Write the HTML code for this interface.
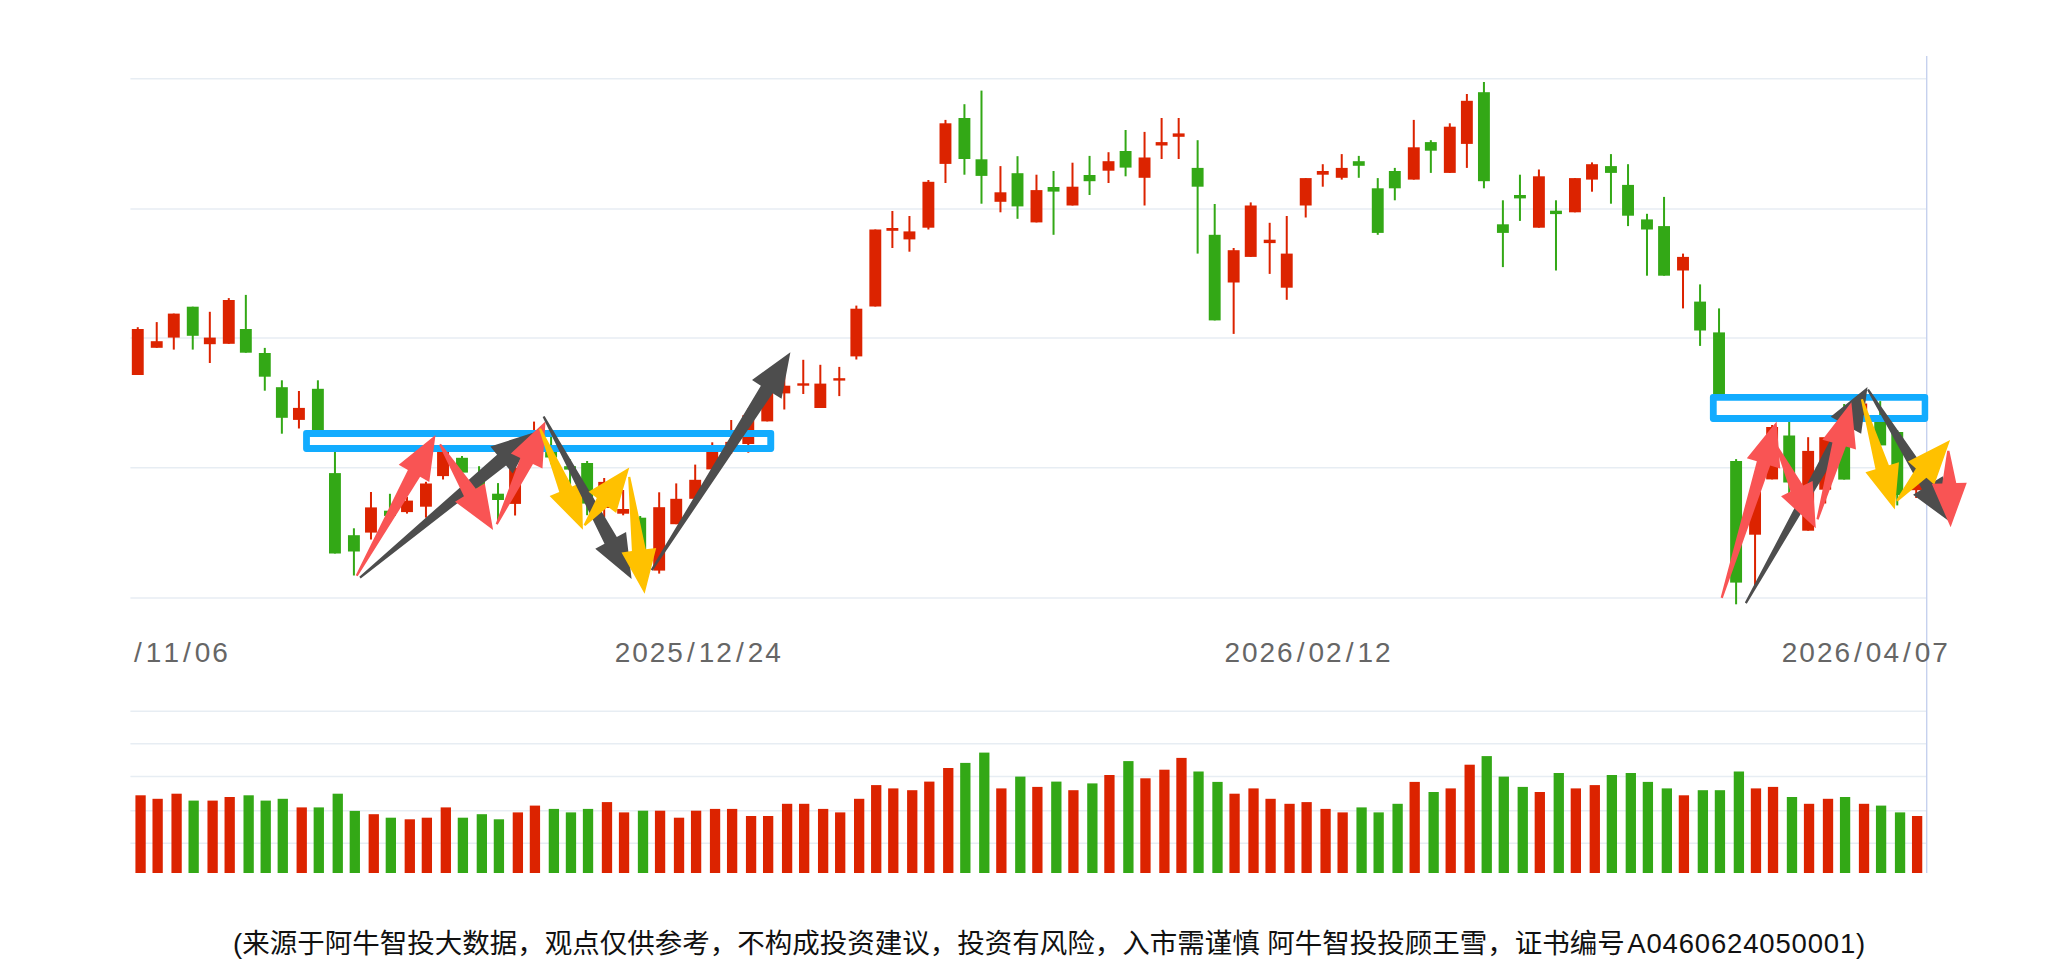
<!DOCTYPE html>
<html lang="zh-CN"><head><meta charset="utf-8"><title>K线图</title>
<style>
html,body{margin:0;padding:0;background:#fff}
body{width:2058px;height:974px;position:relative;overflow:hidden}
.foot{position:absolute;left:233px;top:924px;height:40px;line-height:40px;white-space:nowrap;
font-family:"Liberation Sans","Noto Sans CJK SC",sans-serif;font-size:27.5px;color:#111;letter-spacing:0px}
</style></head><body>
<svg width="2058" height="974" viewBox="0 0 2058 974" style="position:absolute;left:0;top:0">
<g stroke="#E7EDF3" stroke-width="1.5">
<line x1="130.4" x2="1926" y1="78.7" y2="78.7"/>
<line x1="130.4" x2="1926" y1="209.1" y2="209.1"/>
<line x1="130.4" x2="1926" y1="338" y2="338"/>
<line x1="130.4" x2="1926" y1="467.8" y2="467.8"/>
<line x1="130.4" x2="1926" y1="598" y2="598"/>
<line x1="130.4" x2="1926" y1="711.2" y2="711.2"/>
<line x1="130.4" x2="1926" y1="743.8" y2="743.8"/>
<line x1="130.4" x2="1926" y1="776.5" y2="776.5"/>
<line x1="130.4" x2="1926" y1="810.8" y2="810.8"/>
<line x1="130.4" x2="1926" y1="843.3" y2="843.3"/>
</g>
<line x1="1926.7" x2="1926.7" y1="56" y2="873" stroke="#C6D1EE" stroke-width="1.4"/>
<g fill="#DC2300">
<rect x="135.42" y="795.3" width="10.3" height="77.7"/>
<rect x="152.48" y="798.8" width="10.3" height="74.2"/>
<rect x="171.44" y="793.7" width="10.3" height="79.3"/>
<rect x="207.46" y="800.6" width="10.3" height="72.4"/>
<rect x="224.53" y="797" width="10.3" height="76"/>
<rect x="296.58" y="807.4" width="10.3" height="65.6"/>
<rect x="368.62" y="814.2" width="10.3" height="58.8"/>
<rect x="404.65" y="819.3" width="10.3" height="53.7"/>
<rect x="421.71" y="817.7" width="10.3" height="55.3"/>
<rect x="440.67" y="807.4" width="10.3" height="65.6"/>
<rect x="512.72" y="812.4" width="10.3" height="60.6"/>
<rect x="529.78" y="805.6" width="10.3" height="67.4"/>
<rect x="601.83" y="802.1" width="10.3" height="70.9"/>
<rect x="618.9" y="812.4" width="10.3" height="60.6"/>
<rect x="654.92" y="810.7" width="10.3" height="62.3"/>
<rect x="673.88" y="817.7" width="10.3" height="55.3"/>
<rect x="690.94" y="810.7" width="10.3" height="62.3"/>
<rect x="709.9" y="808.9" width="10.3" height="64.1"/>
<rect x="726.97" y="808.9" width="10.3" height="64.1"/>
<rect x="745.93" y="816" width="10.3" height="57"/>
<rect x="762.99" y="816" width="10.3" height="57"/>
<rect x="781.95" y="803.8" width="10.3" height="69.2"/>
<rect x="799.02" y="803.8" width="10.3" height="69.2"/>
<rect x="817.98" y="808.9" width="10.3" height="64.1"/>
<rect x="835.04" y="812.4" width="10.3" height="60.6"/>
<rect x="854" y="798.8" width="10.3" height="74.2"/>
<rect x="871.06" y="785.1" width="10.3" height="87.9"/>
<rect x="888.13" y="788.4" width="10.3" height="84.6"/>
<rect x="907.09" y="790.2" width="10.3" height="82.8"/>
<rect x="924.15" y="781.6" width="10.3" height="91.4"/>
<rect x="943.11" y="768" width="10.3" height="105"/>
<rect x="996.2" y="788.4" width="10.3" height="84.6"/>
<rect x="1032.22" y="786.9" width="10.3" height="86.1"/>
<rect x="1068.25" y="790.2" width="10.3" height="82.8"/>
<rect x="1104.27" y="775" width="10.3" height="98"/>
<rect x="1140.3" y="778.3" width="10.3" height="94.7"/>
<rect x="1159.26" y="769.7" width="10.3" height="103.3"/>
<rect x="1176.32" y="757.9" width="10.3" height="115.1"/>
<rect x="1229.41" y="793.7" width="10.3" height="79.3"/>
<rect x="1248.37" y="788.4" width="10.3" height="84.6"/>
<rect x="1265.43" y="798.8" width="10.3" height="74.2"/>
<rect x="1284.39" y="803.8" width="10.3" height="69.2"/>
<rect x="1301.46" y="802.1" width="10.3" height="70.9"/>
<rect x="1320.42" y="808.9" width="10.3" height="64.1"/>
<rect x="1337.48" y="812.4" width="10.3" height="60.6"/>
<rect x="1409.53" y="781.9" width="10.3" height="91.1"/>
<rect x="1445.55" y="788.4" width="10.3" height="84.6"/>
<rect x="1464.51" y="764.7" width="10.3" height="108.3"/>
<rect x="1534.66" y="792" width="10.3" height="81"/>
<rect x="1570.69" y="788.4" width="10.3" height="84.6"/>
<rect x="1589.65" y="785.1" width="10.3" height="87.9"/>
<rect x="1678.76" y="795.3" width="10.3" height="77.7"/>
<rect x="1750.81" y="788.4" width="10.3" height="84.6"/>
<rect x="1767.87" y="786.9" width="10.3" height="86.1"/>
<rect x="1803.9" y="803.8" width="10.3" height="69.2"/>
<rect x="1822.86" y="798.8" width="10.3" height="74.2"/>
<rect x="1858.88" y="803.8" width="10.3" height="69.2"/>
<rect x="1911.97" y="816" width="10.3" height="57"/>
</g>
<g fill="#33A816">
<rect x="188.5" y="800.6" width="10.3" height="72.4"/>
<rect x="243.49" y="795.3" width="10.3" height="77.7"/>
<rect x="260.55" y="800.6" width="10.3" height="72.4"/>
<rect x="277.62" y="798.8" width="10.3" height="74.2"/>
<rect x="313.64" y="807.4" width="10.3" height="65.6"/>
<rect x="332.6" y="793.7" width="10.3" height="79.3"/>
<rect x="349.66" y="810.9" width="10.3" height="62.1"/>
<rect x="385.69" y="817.7" width="10.3" height="55.3"/>
<rect x="457.74" y="817.7" width="10.3" height="55.3"/>
<rect x="476.7" y="814.2" width="10.3" height="58.8"/>
<rect x="493.76" y="819.3" width="10.3" height="53.7"/>
<rect x="548.74" y="808.9" width="10.3" height="64.1"/>
<rect x="565.81" y="812.4" width="10.3" height="60.6"/>
<rect x="582.87" y="808.9" width="10.3" height="64.1"/>
<rect x="637.86" y="810.7" width="10.3" height="62.3"/>
<rect x="960.18" y="762.9" width="10.3" height="110.1"/>
<rect x="979.14" y="752.6" width="10.3" height="120.4"/>
<rect x="1015.16" y="776.6" width="10.3" height="96.4"/>
<rect x="1051.18" y="781.6" width="10.3" height="91.4"/>
<rect x="1087.21" y="783.4" width="10.3" height="89.6"/>
<rect x="1123.23" y="761.1" width="10.3" height="111.9"/>
<rect x="1193.38" y="771.5" width="10.3" height="101.5"/>
<rect x="1212.34" y="781.9" width="10.3" height="91.1"/>
<rect x="1356.44" y="807.4" width="10.3" height="65.6"/>
<rect x="1373.5" y="812.4" width="10.3" height="60.6"/>
<rect x="1392.46" y="803.8" width="10.3" height="69.2"/>
<rect x="1428.49" y="792" width="10.3" height="81"/>
<rect x="1481.58" y="756.1" width="10.3" height="116.9"/>
<rect x="1498.64" y="776.6" width="10.3" height="96.4"/>
<rect x="1517.6" y="786.9" width="10.3" height="86.1"/>
<rect x="1553.62" y="773" width="10.3" height="100"/>
<rect x="1606.71" y="775" width="10.3" height="98"/>
<rect x="1625.67" y="773" width="10.3" height="100"/>
<rect x="1642.74" y="781.9" width="10.3" height="91.1"/>
<rect x="1661.7" y="788.4" width="10.3" height="84.6"/>
<rect x="1697.72" y="790.2" width="10.3" height="82.8"/>
<rect x="1714.78" y="790.2" width="10.3" height="82.8"/>
<rect x="1733.74" y="771.5" width="10.3" height="101.5"/>
<rect x="1786.83" y="797" width="10.3" height="76"/>
<rect x="1839.92" y="797" width="10.3" height="76"/>
<rect x="1875.94" y="805.6" width="10.3" height="67.4"/>
<rect x="1894.9" y="812.4" width="10.3" height="60.6"/>
</g>
<g fill="#DC2300">
<rect x="136.77" y="327.2" width="2" height="47.8"/>
<rect x="131.82" y="329" width="11.9" height="46"/>
<rect x="155.73" y="322.1" width="2" height="25.7"/>
<rect x="150.78" y="341.2" width="11.9" height="6.6"/>
<rect x="172.79" y="313.6" width="2" height="36"/>
<rect x="167.84" y="313.6" width="11.9" height="24"/>
<rect x="208.82" y="311.8" width="2" height="51.2"/>
<rect x="203.87" y="337.6" width="11.9" height="6.6"/>
<rect x="227.78" y="298.1" width="2" height="45.7"/>
<rect x="222.83" y="300" width="11.9" height="43.8"/>
<rect x="297.93" y="391" width="2" height="37.5"/>
<rect x="292.98" y="407.9" width="11.9" height="12"/>
<rect x="369.98" y="492" width="2" height="47.5"/>
<rect x="365.03" y="507.4" width="11.9" height="25.2"/>
<rect x="406" y="497" width="2" height="16.6"/>
<rect x="401.05" y="500.6" width="11.9" height="11.5"/>
<rect x="424.96" y="481.8" width="2" height="35.9"/>
<rect x="420.01" y="483.5" width="11.9" height="23.2"/>
<rect x="442.03" y="451" width="2" height="28.5"/>
<rect x="437.08" y="451" width="11.9" height="25.1"/>
<rect x="514.07" y="465" width="2" height="50.5"/>
<rect x="509.12" y="467.8" width="11.9" height="36.1"/>
<rect x="533.03" y="421.6" width="2" height="40.4"/>
<rect x="528.08" y="432" width="11.9" height="30"/>
<rect x="603.19" y="478" width="2" height="39.5"/>
<rect x="598.24" y="481.9" width="11.9" height="26.1"/>
<rect x="622.15" y="490" width="2" height="25.3"/>
<rect x="617.2" y="509" width="11.9" height="4.7"/>
<rect x="658.17" y="492.3" width="2" height="81.3"/>
<rect x="653.22" y="507.2" width="11.9" height="63.4"/>
<rect x="675.23" y="483.4" width="2" height="40.8"/>
<rect x="670.28" y="498.8" width="11.9" height="25.4"/>
<rect x="694.19" y="464.6" width="2" height="34.2"/>
<rect x="689.24" y="479.8" width="11.9" height="19"/>
<rect x="711.26" y="442.3" width="2" height="27.1"/>
<rect x="706.31" y="450.6" width="11.9" height="18.8"/>
<rect x="730.22" y="420" width="2" height="33.7"/>
<rect x="725.27" y="441.9" width="11.9" height="8.1"/>
<rect x="747.28" y="408.5" width="2" height="44.2"/>
<rect x="742.33" y="415.2" width="11.9" height="28.8"/>
<rect x="766.24" y="385" width="2" height="36.4"/>
<rect x="761.29" y="389.6" width="11.9" height="31.8"/>
<rect x="783.31" y="375" width="2" height="34.5"/>
<rect x="778.36" y="385.7" width="11.9" height="7.7"/>
<rect x="802.27" y="359.8" width="2" height="34.2"/>
<rect x="797.32" y="383.3" width="11.9" height="2.4"/>
<rect x="819.33" y="364.8" width="2" height="43.2"/>
<rect x="814.38" y="383.6" width="11.9" height="24.4"/>
<rect x="838.29" y="366.9" width="2" height="29.2"/>
<rect x="833.34" y="378.2" width="11.9" height="2.4"/>
<rect x="855.35" y="305.6" width="2" height="53.9"/>
<rect x="850.4" y="308.7" width="11.9" height="47.7"/>
<rect x="874.31" y="229.5" width="2" height="77"/>
<rect x="869.36" y="229.5" width="11.9" height="77"/>
<rect x="891.38" y="211" width="2" height="37"/>
<rect x="886.43" y="228" width="11.9" height="2.8"/>
<rect x="908.44" y="216" width="2" height="35.7"/>
<rect x="903.49" y="231.4" width="11.9" height="8"/>
<rect x="927.4" y="180" width="2" height="49.5"/>
<rect x="922.45" y="181.8" width="11.9" height="45.9"/>
<rect x="944.47" y="119.9" width="2" height="63.1"/>
<rect x="939.52" y="123.3" width="11.9" height="40.6"/>
<rect x="999.45" y="166.1" width="2" height="46.2"/>
<rect x="994.5" y="192.3" width="11.9" height="9.5"/>
<rect x="1035.47" y="174.7" width="2" height="47.7"/>
<rect x="1030.52" y="190.1" width="11.9" height="32.3"/>
<rect x="1071.5" y="162.7" width="2" height="42.8"/>
<rect x="1066.55" y="186.7" width="11.9" height="18.8"/>
<rect x="1107.52" y="152.2" width="2" height="30.8"/>
<rect x="1102.57" y="161.2" width="11.9" height="9.5"/>
<rect x="1143.55" y="131.9" width="2" height="73.6"/>
<rect x="1138.6" y="157.5" width="11.9" height="20.3"/>
<rect x="1160.61" y="118" width="2" height="41"/>
<rect x="1155.66" y="142.1" width="11.9" height="3.4"/>
<rect x="1177.67" y="118" width="2" height="41"/>
<rect x="1172.72" y="133.4" width="11.9" height="3.4"/>
<rect x="1232.66" y="248" width="2" height="85.9"/>
<rect x="1227.71" y="250.2" width="11.9" height="32.3"/>
<rect x="1249.72" y="202.4" width="2" height="54.5"/>
<rect x="1244.77" y="205.5" width="11.9" height="51.4"/>
<rect x="1268.68" y="222.8" width="2" height="51.1"/>
<rect x="1263.73" y="239.7" width="11.9" height="3.4"/>
<rect x="1285.75" y="216" width="2" height="83.8"/>
<rect x="1280.8" y="253.6" width="11.9" height="34.1"/>
<rect x="1304.71" y="178.1" width="2" height="39.4"/>
<rect x="1299.76" y="178.1" width="11.9" height="27.4"/>
<rect x="1321.77" y="164.2" width="2" height="22.5"/>
<rect x="1316.82" y="171" width="11.9" height="3.7"/>
<rect x="1340.73" y="154.1" width="2" height="25.5"/>
<rect x="1335.78" y="167.9" width="11.9" height="9.9"/>
<rect x="1412.78" y="119.9" width="2" height="59.7"/>
<rect x="1407.83" y="147.3" width="11.9" height="32.3"/>
<rect x="1448.8" y="123.3" width="2" height="49.6"/>
<rect x="1443.85" y="126.7" width="11.9" height="46.2"/>
<rect x="1465.87" y="94" width="2" height="73.9"/>
<rect x="1460.92" y="100.8" width="11.9" height="43.1"/>
<rect x="1537.91" y="169.5" width="2" height="58.2"/>
<rect x="1532.96" y="176.3" width="11.9" height="51.4"/>
<rect x="1573.94" y="178.1" width="2" height="34.2"/>
<rect x="1568.99" y="178.1" width="11.9" height="34.2"/>
<rect x="1591" y="162.4" width="2" height="29.3"/>
<rect x="1586.05" y="164.2" width="11.9" height="15.4"/>
<rect x="1682.01" y="253.6" width="2" height="54.8"/>
<rect x="1677.06" y="256.9" width="11.9" height="13.6"/>
<rect x="1754.06" y="489" width="2" height="96"/>
<rect x="1749.11" y="491.5" width="11.9" height="43.2"/>
<rect x="1771.12" y="425" width="2" height="54.4"/>
<rect x="1766.17" y="427" width="11.9" height="52.4"/>
<rect x="1807.15" y="437.2" width="2" height="93.5"/>
<rect x="1802.2" y="450.9" width="11.9" height="79.8"/>
<rect x="1824.21" y="437.2" width="2" height="66.3"/>
<rect x="1819.26" y="437.2" width="11.9" height="52.5"/>
<rect x="1860.23" y="400" width="2" height="20"/>
<rect x="1855.28" y="403.5" width="11.9" height="14.5"/>
<rect x="1915.22" y="481" width="2" height="17"/>
<rect x="1910.27" y="482" width="11.9" height="8.2"/>
</g>
<g fill="#33A816">
<rect x="191.75" y="306.7" width="2" height="42.9"/>
<rect x="186.8" y="306.7" width="11.9" height="29.1"/>
<rect x="244.84" y="294.9" width="2" height="57.8"/>
<rect x="239.89" y="329" width="11.9" height="23.7"/>
<rect x="263.8" y="347.9" width="2" height="42.8"/>
<rect x="258.85" y="353" width="11.9" height="23.7"/>
<rect x="280.87" y="380.3" width="2" height="53.4"/>
<rect x="275.92" y="387.2" width="11.9" height="30.6"/>
<rect x="316.89" y="380.3" width="2" height="53.7"/>
<rect x="311.94" y="388.8" width="11.9" height="45.2"/>
<rect x="333.95" y="448" width="2" height="105.5"/>
<rect x="329" y="473.1" width="11.9" height="80.4"/>
<rect x="352.91" y="528.3" width="2" height="47.2"/>
<rect x="347.96" y="535.2" width="11.9" height="16.3"/>
<rect x="388.94" y="493.8" width="2" height="22.2"/>
<rect x="383.99" y="510.7" width="11.9" height="5.2"/>
<rect x="460.99" y="456" width="2" height="16.6"/>
<rect x="456.04" y="457.8" width="11.9" height="14.8"/>
<rect x="478.05" y="466.2" width="2" height="22.6"/>
<rect x="473.1" y="479" width="11.9" height="9.8"/>
<rect x="497.01" y="483.1" width="2" height="38.9"/>
<rect x="492.06" y="493.7" width="11.9" height="6.3"/>
<rect x="550.1" y="432" width="2" height="32.2"/>
<rect x="545.15" y="449" width="11.9" height="8.5"/>
<rect x="569.06" y="459.3" width="2" height="25.2"/>
<rect x="564.11" y="466.2" width="11.9" height="3.4"/>
<rect x="586.12" y="461" width="2" height="54.2"/>
<rect x="581.17" y="463" width="11.9" height="40.6"/>
<rect x="639.21" y="516" width="2" height="38"/>
<rect x="634.26" y="517.7" width="11.9" height="34.3"/>
<rect x="963.43" y="104.2" width="2" height="70.5"/>
<rect x="958.48" y="118" width="11.9" height="41"/>
<rect x="980.49" y="90.6" width="2" height="113.1"/>
<rect x="975.54" y="159.3" width="11.9" height="16.6"/>
<rect x="1016.51" y="156.2" width="2" height="62.6"/>
<rect x="1011.56" y="173.2" width="11.9" height="33.2"/>
<rect x="1052.54" y="171" width="2" height="63.8"/>
<rect x="1047.59" y="187" width="11.9" height="4.6"/>
<rect x="1088.56" y="155.9" width="2" height="39.1"/>
<rect x="1083.61" y="175" width="11.9" height="6.2"/>
<rect x="1124.59" y="130" width="2" height="46.3"/>
<rect x="1119.64" y="151" width="11.9" height="16.6"/>
<rect x="1196.63" y="140.2" width="2" height="113.4"/>
<rect x="1191.68" y="167.9" width="11.9" height="18.8"/>
<rect x="1213.7" y="204" width="2" height="116.4"/>
<rect x="1208.75" y="234.8" width="11.9" height="85.6"/>
<rect x="1357.79" y="155.9" width="2" height="21.9"/>
<rect x="1352.84" y="161.2" width="11.9" height="4.6"/>
<rect x="1376.75" y="178.1" width="2" height="56.7"/>
<rect x="1371.8" y="188.3" width="11.9" height="44.6"/>
<rect x="1393.82" y="167.9" width="2" height="32.4"/>
<rect x="1388.87" y="171" width="11.9" height="17.3"/>
<rect x="1429.84" y="140.2" width="2" height="32.7"/>
<rect x="1424.89" y="142.1" width="11.9" height="8.6"/>
<rect x="1482.93" y="82" width="2" height="106.3"/>
<rect x="1477.98" y="92.2" width="11.9" height="89"/>
<rect x="1501.89" y="200.3" width="2" height="66.8"/>
<rect x="1496.94" y="224.3" width="11.9" height="8.6"/>
<rect x="1518.95" y="174.7" width="2" height="46.2"/>
<rect x="1514" y="195" width="11.9" height="3.4"/>
<rect x="1554.98" y="200.3" width="2" height="70.2"/>
<rect x="1550.03" y="210.7" width="11.9" height="3.4"/>
<rect x="1609.96" y="154.1" width="2" height="49.6"/>
<rect x="1605.01" y="166.1" width="11.9" height="6.8"/>
<rect x="1627.03" y="164.2" width="2" height="61.9"/>
<rect x="1622.08" y="184.9" width="11.9" height="30.8"/>
<rect x="1645.99" y="213.8" width="2" height="61.9"/>
<rect x="1641.04" y="219.4" width="11.9" height="10.1"/>
<rect x="1663.05" y="196.9" width="2" height="78.8"/>
<rect x="1658.1" y="226.1" width="11.9" height="49.6"/>
<rect x="1699.07" y="284.4" width="2" height="61.5"/>
<rect x="1694.12" y="301.6" width="11.9" height="28.9"/>
<rect x="1718.03" y="308.4" width="2" height="89.6"/>
<rect x="1713.08" y="332.4" width="11.9" height="65.6"/>
<rect x="1735.1" y="459.1" width="2" height="145.2"/>
<rect x="1730.15" y="461" width="11.9" height="121.6"/>
<rect x="1788.19" y="418" width="2" height="75.4"/>
<rect x="1783.24" y="435.5" width="11.9" height="47"/>
<rect x="1843.17" y="404" width="2" height="75.6"/>
<rect x="1838.22" y="420" width="11.9" height="59.6"/>
<rect x="1879.19" y="401.1" width="2" height="44.3"/>
<rect x="1874.24" y="418" width="11.9" height="27.4"/>
<rect x="1896.26" y="430.2" width="2" height="75.2"/>
<rect x="1891.31" y="432" width="11.9" height="63"/>
</g>
<path fill="#12ACFF" fill-rule="evenodd" d="M306.2,430.05H771.1A3.1,3.1 0 0 1 774.2,433.15V448.8A3.1,3.1 0 0 1 771.1,451.9H306.2A3.1,3.1 0 0 1 303.1,448.8V433.15A3.1,3.1 0 0 1 306.2,430.05ZM309.9,436.9V444.9H767.3V436.9Z"/>
<path fill="#12ACFF" fill-rule="evenodd" d="M1713,393.9H1925.1A3.1,3.1 0 0 1 1928.2,397V418.8A3.1,3.1 0 0 1 1925.1,421.9H1713A3.1,3.1 0 0 1 1709.9,418.8V397A3.1,3.1 0 0 1 1713,393.9ZM1716.7,400.8V415H1921.7V400.8Z"/>
<polygon fill="#4D4D4D" points="360.7,578.45 506.03,465.4 512.74,473.48 535.4,431.9 490.37,446.55 497.08,454.63 359.3,576.75"/>
<polygon fill="#F95454" points="357.66,576.24 420.11,476.81 429.27,481.94 435.5,435 398.73,464.84 407.89,469.97 355.74,575.16"/>
<polygon fill="#F95454" points="439.07,444.88 463.96,496.2 455.03,501.73 493.1,529.9 484.78,483.28 475.85,488.82 440.93,443.72"/>
<polygon fill="#F95454" points="497.69,524.67 532.99,463.96 542.48,468.46 545.5,421.2 510.85,453.47 520.33,457.97 495.71,523.73"/>
<polygon fill="#FFC100" points="538.99,429.03 559.27,491.93 549.6,496.03 582.9,529.7 581.82,482.36 572.16,486.46 541.01,428.17"/>
<polygon fill="#4D4D4D" points="542.63,416.92 604.51,543.73 595.27,548.72 631.6,579.1 626.06,532.07 616.82,537.07 544.57,415.88"/>
<polygon fill="#FFC100" points="585.37,526.07 607.88,506.67 616.18,513.1 629.3,467.6 588.51,491.66 596.81,498.09 583.63,524.73"/>
<polygon fill="#FFC100" points="628.11,476.94 631.92,551.09 621.51,552.46 644.6,593.8 656.21,547.89 645.8,549.26 630.29,476.66"/>
<polygon fill="#4D4D4D" points="652.63,570.79 772.68,393.18 781.54,398.82 790.4,352.3 752.01,380.02 760.87,385.66 650.77,569.61"/>
<polygon fill="#4D4D4D" points="1746.76,603.64 1852.02,428.68 1861.17,433.83 1867.5,386.9 1830.67,416.66 1839.82,421.81 1744.84,602.56"/>
<polygon fill="#F95454" points="1722.75,598.13 1770.21,465.49 1780.23,468.61 1776.6,421.4 1746.82,458.21 1756.84,461.33 1720.65,597.47"/>
<polygon fill="#F95454" points="1775.51,446.47 1790.52,491.61 1781.05,496.14 1815.8,528.3 1812.63,481.05 1803.16,485.58 1777.49,445.53"/>
<polygon fill="#F95454" points="1818.56,519.71 1845.89,446.51 1855.97,449.43 1851.4,402.3 1822.35,439.7 1832.44,442.62 1816.44,519.09"/>
<polygon fill="#FFC100" points="1860.85,399.61 1875.5,469.25 1865.43,472.25 1894.8,509.4 1898.97,462.23 1888.91,465.24 1862.95,398.99"/>
<polygon fill="#4D4D4D" points="1867.07,390.08 1921.96,489.18 1913.06,494.74 1951.2,522.8 1942.75,476.21 1933.84,481.77 1868.93,388.92"/>
<polygon fill="#FFC100" points="1897.73,501.62 1926.42,477.74 1934.33,484.65 1950.1,440 1907.97,461.62 1915.88,468.53 1896.07,500.18"/>
<polygon fill="#F95454" points="1947.2,450.83 1942.28,483.43 1931.78,483.75 1950.6,527.2 1966.77,482.69 1956.27,483.01 1949.4,450.77"/>
<g font-family="Liberation Sans, sans-serif" font-size="28" fill="#666" text-anchor="middle">
<text y="661.8" x="137.95 153.65 171.2 186.9 202.6 220.15">/11/06</text>
<text y="661.8" x="622.5 640.05 657.6 675.15 690.85 706.55 724.1 739.8 755.5 773.05">2025/12/24</text>
<text y="661.8" x="1232.25 1249.8 1267.35 1284.9 1300.6 1316.3 1333.85 1349.55 1365.25 1382.8">2026/02/12</text>
<text y="661.8" x="1789.6 1807.15 1824.7 1842.25 1857.95 1873.65 1891.2 1906.9 1922.6 1940.15">2026/04/07</text>
</g>
</svg>
<div class="foot" id="foot">(来源于阿牛智投大数据，观点仅供参考，不构成投资建议，投资有风险，入市需谨慎 阿牛智投投顾王雪，证书编号<span style="letter-spacing:0.83px;margin-left:2.5px">A0460624050001)</span></div>
</body></html>
